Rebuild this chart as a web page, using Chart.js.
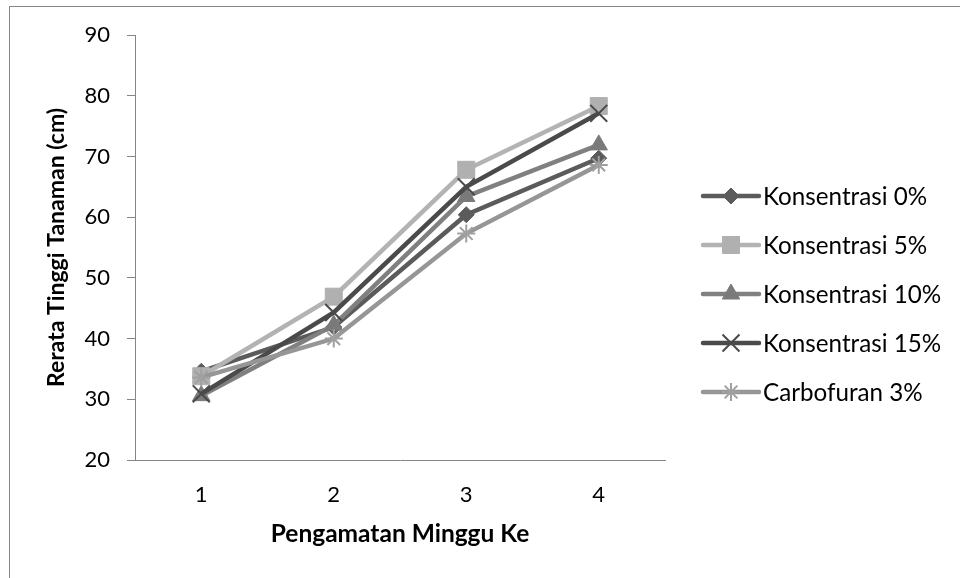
<!DOCTYPE html>
<html>
<head>
<meta charset="utf-8">
<title>Rerata Tinggi Tanaman</title>
<script src="https://cdn.jsdelivr.net/npm/chart.js"></script>
<style>
  html, body { margin: 0; padding: 0; background: #fff; }
  #wrap { width: 960px; height: 578px; position: relative; }
</style>
</head>
<body>
<div id="wrap"><canvas id="chart"></canvas></div>
<script>
// data
const weeks = ['1', '2', '3', '4'];
const konsentrasi0 = [34.6, 41.9, 60.4, 69.7];
const konsentrasi5 = [33.8, 46.9, 67.8, 78.3];
const konsentrasi10 = [30.6, 42.2, 63.4, 71.9];
const konsentrasi15 = [30.9, 44.3, 65.0, 77.1];
const carbofuran3 = [33.6, 40.0, 57.3, 68.6];
const seriesNames = ['Konsentrasi 0%', 'Konsentrasi 5%', 'Konsentrasi 10%', 'Konsentrasi 15%', 'Carbofuran 3%'];
const yTicks = [20, 30, 40, 50, 60, 70, 80, 90];

const FONT = 'Lato, Calibri, "Noto Sans", sans-serif';
const axisGray = '#868686';

const styles = [
    { color: '#5b5b5b', marker: 'rectRot', radius: 8, markerColor: '#5b5b5b' },
    { color: '#b3b3b3', marker: 'rect', radius: 12, markerColor: '#b0b0b0' },
    { color: '#808080', marker: 'triangle', radius: 10, markerColor: '#7a7a7a' },
    { color: '#4a4a4a', marker: 'crossRot', radius: 12, markerColor: '#4a4a4a' },
    { color: '#969696', marker: 'star', radius: 9, markerColor: '#a0a0a0' }
];
const allSeries = [konsentrasi0, konsentrasi5, konsentrasi10, konsentrasi15, carbofuran3];

const datasets = allSeries.map((values, i) => {
    const s = styles[i];
    const stroked = s.marker === 'crossRot' || s.marker === 'star';
    return {
        label: seriesNames[i],
        data: values,
        borderColor: s.color,
        borderWidth: 4.5,
        pointStyle: s.marker,
        pointRadius: s.radius,
        pointBackgroundColor: s.markerColor,
        pointBorderColor: s.markerColor,
        pointBorderWidth: stroked ? 2 : 1,
        tension: 0,
        fill: false,
        order: allSeries.length - i
    };
});

// frame round the whole chart
const framePlugin = {
    id: 'frame',
    beforeDraw(chart) {
        const ctx = chart.ctx;
        ctx.save();
        ctx.fillStyle = '#fff';
        ctx.fillRect(0, 0, chart.width, chart.height);
        ctx.strokeStyle = axisGray;
        ctx.lineWidth = 1;
        ctx.strokeRect(9.5, 6.5, chart.width + 20, chart.height + 20);
        ctx.restore();
    }
};

// legend with line + marker like the original
const lineLegend = {
    id: 'lineLegend',
    afterDraw(chart) {
        const ctx = chart.ctx;
        const area = chart.chartArea;
        const x0 = area.right + 38;
        const y0 = 196;
        const rowGap = 49;
        ctx.save();
        chart.data.datasets.forEach((ds, i) => {
            const y = y0 + i * rowGap;
            ctx.strokeStyle = ds.borderColor;
            ctx.lineWidth = 4.5;
            ctx.lineCap = 'round';
            ctx.beginPath();
            ctx.moveTo(x0, y);
            ctx.lineTo(x0 + 56, y);
            ctx.stroke();
            ctx.lineCap = 'butt';
            ctx.fillStyle = ds.pointBackgroundColor;
            ctx.strokeStyle = ds.pointBorderColor;
            ctx.lineWidth = ds.pointBorderWidth;
            Chart.helpers.drawPoint(ctx, {
                pointStyle: ds.pointStyle,
                radius: ds.pointRadius,
                rotation: 0,
                borderWidth: ds.pointBorderWidth
            }, x0 + 28, y);
            ctx.fillStyle = '#000';
            ctx.font = '24.2px ' + FONT;
            ctx.textBaseline = 'middle';
            ctx.textAlign = 'left';
            ctx.fillText(ds.label, x0 + 60, y + 1);
        });
        ctx.restore();
    }
};

new Chart(document.getElementById('chart'), {
    type: 'line',
    data: { labels: weeks, datasets: datasets },
    plugins: [framePlugin, lineLegend],
    options: {
        responsive: true,
        maintainAspectRatio: false,
        animation: false,
        layout: { padding: { left: 0, right: 295, top: 35, bottom: 0 } },
        plugins: {
            legend: { display: false },
            tooltip: { enabled: false }
        },
        scales: {
            x: {
                type: 'category',
                offset: true,
                grid: { display: false, drawTicks: false },
                border: { display: true, color: axisGray, width: 1 },
                ticks: {
                    color: '#000',
                    padding: 22,
                    font: { family: FONT, size: 22 }
                },
                title: {
                    display: true,
                    text: 'Pengamatan Minggu Ke',
                    color: '#000',
                    font: { family: FONT, size: 24.5, weight: 'bold' },
                    padding: { top: 0, bottom: 29 }
                },
                afterFit(scale) { scale.height = 118; }
            },
            y: {
                min: yTicks[0],
                max: yTicks[yTicks.length - 1],
                afterBuildTicks(scale) {
                    scale.ticks = yTicks.map(v => ({ value: v }));
                },
                grid: {
                    drawOnChartArea: false,
                    drawTicks: true,
                    tickLength: 8,
                    color: axisGray
                },
                border: { display: true, color: axisGray, width: 1 },
                ticks: {
                    color: '#000',
                    padding: 17,
                    font: { family: FONT, size: 22 }
                },
                title: {
                    display: true,
                    text: 'Rerata Tinggi Tanaman (cm)',
                    color: '#000',
                    font: { family: FONT, size: 23, weight: 'bold' },
                    padding: { top: 43, bottom: 0 }
                },
                afterFit(scale) { scale.width = 135; }
            }
        }
    }
});
</script>
</body>
</html>
